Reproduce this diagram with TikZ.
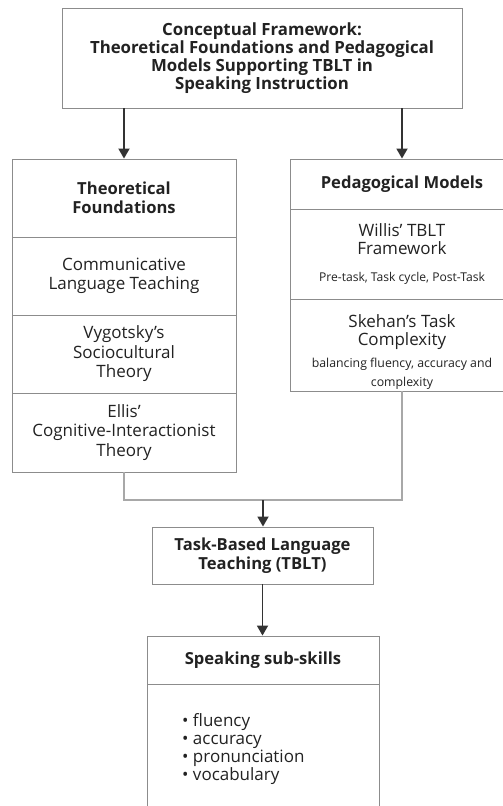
\documentclass[tikz,border=0pt]{standalone}
\usepackage{fontspec}
\setmainfont{Open Sans}
\usetikzlibrary{arrows.meta}
\definecolor{boxgray}{HTML}{8C8C8C}
\definecolor{conngray}{HTML}{A8A8A8}
\definecolor{arrdark}{HTML}{333333}
\definecolor{txt}{HTML}{222222}
\tikzset{
  sec/.style={draw=boxgray, line width=0.9pt, inner sep=0pt, align=center, text=txt, fill=white},
  arr/.style={draw=arrdark, line width=1.8pt, -{Triangle[width=11pt,length=10pt]}},
  conn/.style={draw=conngray, line width=1.4pt},
  hdr/.style={font=\fontsize{16.6}{19}\selectfont\bfseries},
  body/.style={font=\fontsize{17}{19.5}\selectfont}
}
\begin{document}
\begin{tikzpicture}[x=1pt,y=-1pt]
\useasboundingbox (0,0) rectangle (503,806);
\clip (0,0) rectangle (503,806);
\fill[white] (0,0) rectangle (503,806);
% top box
\node[sec, minimum width=400pt, minimum height=100pt, font=\fontsize{16.8}{15.3}\selectfont\bfseries] (top) at (262,58)
  {Conceptual Framework:\\Theoretical Foundations and Pedagogical\\Models Supporting TBLT in\\Speaking Instruction};
% left column
\node[sec, minimum width=224pt, minimum height=78pt, hdr] (L0) at (124,198) {Theoretical\\Foundations};
\node[sec, minimum width=224pt, minimum height=78pt, body] (L1) at (124,276) {Communicative\\Language Teaching};
\node[sec, minimum width=224pt, minimum height=78pt, body] (L2) at (124,354) {Vygotsky’s\\Sociocultural\\Theory};
\node[sec, minimum width=224pt, minimum height=79pt, body] (L3) at (124,432.5) {Ellis’\\Cognitive-Interactionist\\Theory};
% right column
\node[sec, minimum width=224pt, minimum height=50pt, hdr] (R0) at (402,184) {Pedagogical Models};
\node[sec, minimum width=224pt, minimum height=90pt] (R1) at (402,254) {};
\node[sec, minimum width=224pt, minimum height=92pt] (R2) at (402,345) {};
\node[text=txt, align=center, font=\fontsize{17}{18}\selectfont] (R1a) at (402,239) {Willis’ TBLT\\Framework};
\node[text=txt, font=\fontsize{12.1}{14}\selectfont] (R1b) at (402,278) {Pre-task, Task cycle, Post-Task};
\node[text=txt, align=center, font=\fontsize{17}{18}\selectfont] (R2a) at (402,332) {Skehan’s Task\\Complexity};
\node[text=txt, align=center, font=\fontsize{12.3}{19}\selectfont] (R2b) at (402,373.5) {balancing fluency, accuracy and\\complexity};
% arrows from top
\draw[arr] (top.south -| L0.north) -- (L0.north);
\draw[arr] (top.south -| R0.north) -- (R0.north);
% junction
\coordinate (j) at (263,500);
\draw[conn] (L3.south) |- (j);
\draw[conn] (R2.south) |- (j);
% TBLT
\node[sec, minimum width=221pt, minimum height=57pt, font=\fontsize{16.6}{18.5}\selectfont\bfseries] (tblt) at (262.5,555.5) {Task-Based Language\\Teaching (TBLT)};
\draw[arr] (j) -- (j |- tblt.north);
% speaking
\node[sec, minimum width=232pt, minimum height=48pt, hdr] (S0) at (263,660) {Speaking sub-skills};
\node[sec, minimum width=232pt, minimum height=150pt, anchor=north] (S1) at (S0.south) {};
\node[text=txt, align=left, anchor=north west, inner sep=0pt, font=\fontsize{17}{18}\selectfont] (S1t) at (182,713)
  {• fluency\\• accuracy\\• pronunciation\\• vocabulary};
\draw[arr] (tblt.south) -- (S0.north -| tblt.south);
\end{tikzpicture}
\end{document}
